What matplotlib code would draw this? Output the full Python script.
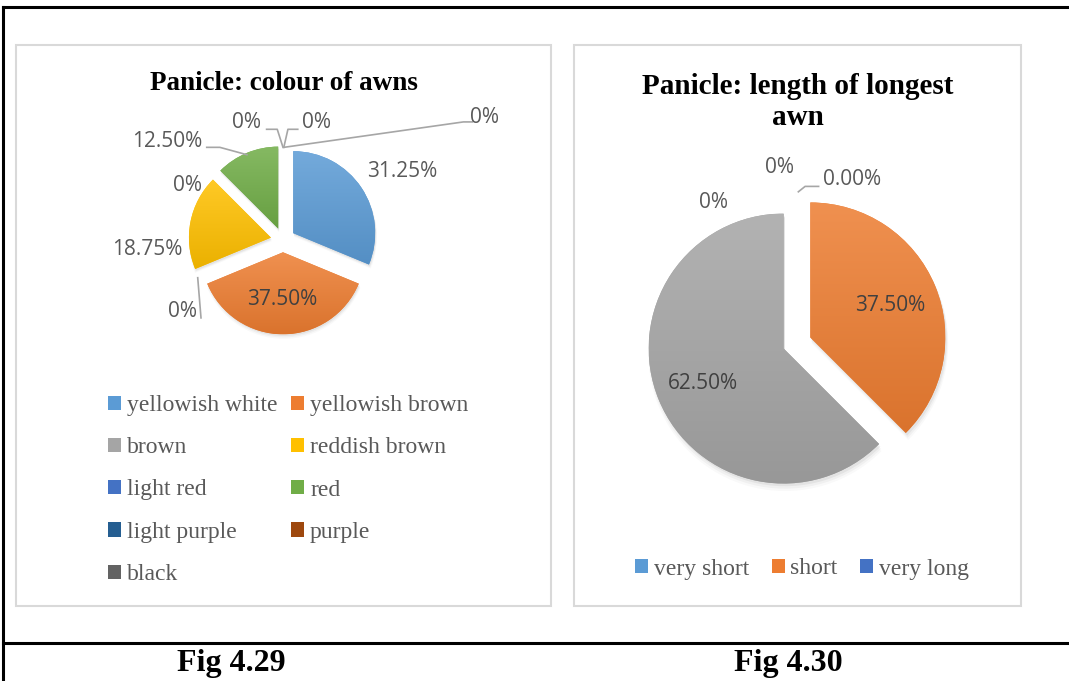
import matplotlib.pyplot as plt
import numpy as np
from matplotlib.colors import LinearSegmentedColormap, to_rgb
from matplotlib.patches import Patch, Rectangle, Wedge
from matplotlib.lines import Line2D

# --- data -------------------------------------------------------------
awn_colours = ["yellowish white", "yellowish brown", "brown", "reddish brown",
               "light red", "red", "light purple", "purple", "black"]
awn_colour_pct = [31.25, 37.50, 0, 18.75, 0, 12.50, 0, 0, 0]
awn_colour_fmt = ["{:.2f}%", "{:.2f}%", "{:.0f}%", "{:.2f}%", "{:.0f}%",
                  "{:.2f}%", "{:.0f}%", "{:.0f}%", "{:.0f}%"]

awn_lengths = ["very short", "short", "medium", "long", "very long"]
awn_length_pct = [0, 37.50, 62.50, 0, 0]
awn_length_fmt = ["{:.2f}%", "{:.2f}%", "{:.2f}%", "{:.0f}%", "{:.0f}%"]
awn_length_legend = ["very short", "short", "very long"]

office = ["#5B9BD5", "#ED7D31", "#A5A5A5", "#FFC000", "#4472C4",
          "#70AD47", "#255E91", "#9E480E", "#636363"]

# label positions (in pie radii) and leader lines, as laid out in the source
colour_label_xy = [(1.45, 0.83), (-0.01, -0.72), (-1.23, -0.87), (-1.66, -0.12),
                   (-1.17, 0.66), (-1.41, 1.20), (-0.45, 1.43), (0.41, 1.43),
                   (2.46, 1.49)]
colour_leaders = [
    [(-1.04, -0.46), (-1.00, -0.95)],
    [(-0.93, 1.13), (-0.77, 1.13), (-0.44, 1.04)],
    [(-0.20, 1.35), (-0.07, 1.35), (0.00, 1.13)],
    [(0.18, 1.35), (0.06, 1.35), (0.01, 1.13)],
    [(0.01, 1.13), (2.20, 1.44), (2.31, 1.44)],
]
length_label_xy = [(0.41, 1.21), (0.69, 0.28), (-0.70, -0.30),
                   (-0.62, 1.04), (-0.13, 1.30)]
length_leaders = [[(0.01, 1.12), (0.06, 1.16), (0.16, 1.16)]]

W, H = 1069, 681
SERIF = "Liberation Serif"
SANS = "Open Sans"

fig = plt.figure(figsize=(W / 100, H / 100), dpi=100)


def fx(x):
    return x / W


def fy(y):
    return 1 - y / H


def add_pie(cx, cy, r, half, values, fmts, colors, explode, label_xy, leaders):
    ax = fig.add_axes([(cx - half * r) / W, 1 - (cy + half * r) / H,
                       2 * half * r / W, 2 * half * r / H])
    wedges, _ = ax.pie(values, colors=colors, startangle=90, counterclock=False,
                       explode=[explode] * len(values),
                       wedgeprops=dict(linewidth=0), normalize=True)
    for w, v, c in zip(wedges, values, colors):
        if v <= 0:
            continue
        # soft drop shadow
        for k, a in enumerate([0.05, 0.035, 0.025]):
            ax.add_patch(Wedge((w.center[0] + 0.01, w.center[1] - 0.02 - 0.012 * k),
                               w.r + 0.006 * k, w.theta1, w.theta2,
                               color="black", alpha=a, lw=0, zorder=0))
        # vertical gradient, lighter on top
        base = np.array(to_rgb(c))
        top = base + (1 - base) * 0.15
        bot = base * 0.92
        cmap = LinearSegmentedColormap.from_list("g", [bot, top])
        ext = w.get_path().get_extents()
        grad = np.linspace(0, 1, 256).reshape(-1, 1)
        im = ax.imshow(grad, cmap=cmap, origin="lower", aspect="auto",
                       extent=[ext.x0, ext.x1, ext.y0, ext.y1],
                       interpolation="bilinear", zorder=2)
        im.set_clip_path(w)
    for (lx, ly), v, f in zip(label_xy, values, fmts):
        inside = np.hypot(lx, ly) < 1.0
        ax.text(lx, ly, f.format(v), ha="center", va="center", fontsize=15,
                family=SANS, color="#404040" if inside else "#595959", zorder=5)
    for pts in leaders:
        xs, ys = zip(*pts)
        ax.plot(xs, ys, color="#A6A6A6", lw=1.2, zorder=4)
    ax.set_xlim(-half, half)
    ax.set_ylim(-half, half)
    ax.axis("off")
    return ax


# outer table lines
fig.add_artist(Line2D([fx(3), 1], [fy(7), fy(7)], color="black", lw=2.2))
fig.add_artist(Line2D([fx(3), fx(3)], [fy(7), 0], color="black", lw=2.2))
fig.add_artist(Line2D([fx(3), 1], [fy(643), fy(643)], color="black", lw=2.2))

# chart panels
for x0, x1 in [(16, 551), (574, 1021)]:
    fig.add_artist(Rectangle((fx(x0), fy(606)), fx(x1 - x0), (606 - 45) / H,
                             transform=fig.transFigure, fill=False,
                             edgecolor="#D9D9D9", lw=1.5))

# left chart
fig.text(fx(283.5), fy(84), "Panicle: colour of awns", ha="center", va="center",
         fontsize=19.5, fontweight="bold", family=SERIF)
add_pie(283, 240, 82, 2.7, awn_colour_pct, awn_colour_fmt, office, 0.15,
        colour_label_xy, colour_leaders)
handles = [Patch(facecolor=c, edgecolor="none", label=n)
           for n, c in zip(awn_colours, office)]
order = [0, 2, 4, 6, 8, 1, 3, 5, 7]
fig.legend([handles[i] for i in order], [awn_colours[i] for i in order],
           loc="center", bbox_to_anchor=(fx(288), fy(490)), ncol=2, frameon=False,
           prop=dict(family=SERIF, size=17), labelcolor="#595959",
           handlelength=0.55, handleheight=0.55, handletextpad=0.25,
           columnspacing=0.6, labelspacing=0.9, borderpad=0)

# right chart
fig.text(fx(797.5), fy(102), "Panicle: length of longest\nawn", ha="center",
         va="center", fontsize=21, fontweight="bold", family=SERIF, linespacing=1.2)
add_pie(797, 343, 135, 1.7, awn_length_pct, awn_length_fmt, office[:5], 0.107,
        length_label_xy, length_leaders)
len_handles = [Patch(facecolor=office[awn_lengths.index(n)], edgecolor="none")
               for n in awn_length_legend]
fig.legend(len_handles, awn_length_legend, loc="center",
           bbox_to_anchor=(fx(802), fy(569)), ncol=3, frameon=False,
           prop=dict(family=SERIF, size=17), labelcolor="#595959",
           handlelength=0.55, handleheight=0.55, handletextpad=0.25,
           columnspacing=0.95, borderpad=0)

# figure captions
fig.text(fx(231), fy(663), "Fig 4.29", ha="center", va="center", fontsize=23,
         fontweight="bold", family=SERIF)
fig.text(fx(788), fy(663), "Fig 4.30", ha="center", va="center", fontsize=23,
         fontweight="bold", family=SERIF)

fig.savefig("out.png", dpi=100)
